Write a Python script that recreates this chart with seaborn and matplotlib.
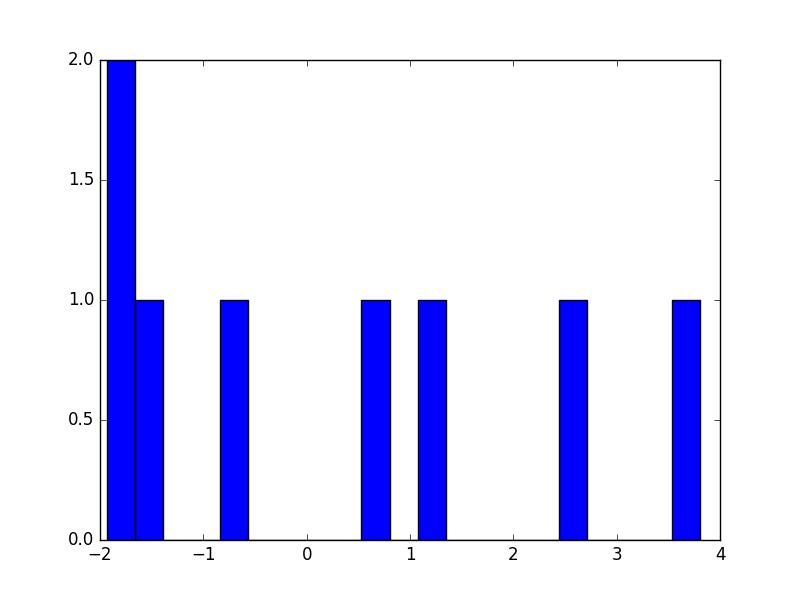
import matplotlib
matplotlib.use("Agg")
import matplotlib.pyplot as plt
import seaborn as sns
import numpy as np

# Sample values
values = [-1.933, -1.80, -1.52, -0.70, 0.66, 1.21, 2.58, 3.810]
n_bins = 21
bar_color = "blue"

plt.style.use("classic")
fig, ax = plt.subplots(figsize=(8, 6), dpi=100)
sns.histplot(x=values, bins=n_bins, color=bar_color, edgecolor="black",
             alpha=1.0, linewidth=1.0, ax=ax)
ax.set_ylabel("")
ax.set_xlabel("")
ax.set_xlim(-2, 4)
ax.set_ylim(0, 2)
ax.set_yticks([0.0, 0.5, 1.0, 1.5, 2.0])
fig.savefig("out.png", dpi=100)
